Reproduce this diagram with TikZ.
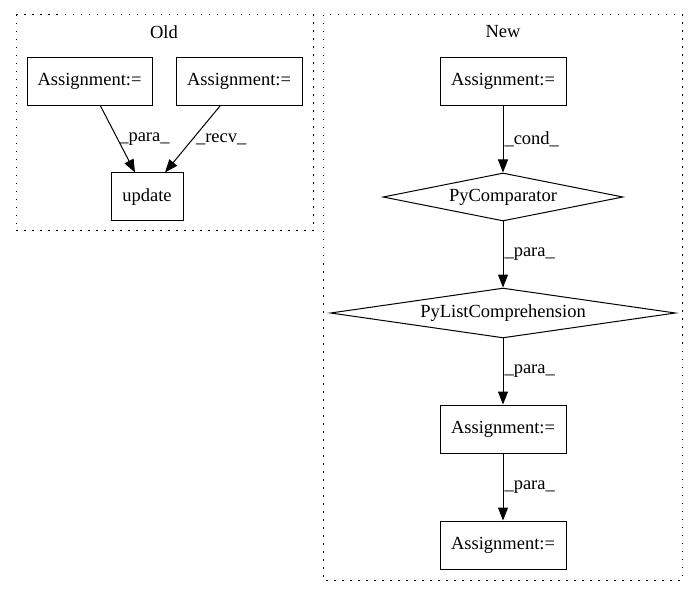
\documentclass[tikz,border=0pt]{standalone}
\usepackage{fontspec}
\setmainfont{Liberation Serif}
\usetikzlibrary{arrows.meta}
\usetikzlibrary{shapes.geometric}
\tikzstyle{assign} = [
    rectangle,
    draw=black,
    line width=1pt,
    minimum width=126pt,
    minimum height=48pt,
    inner sep=0pt,
    text centered
]
\tikzstyle{cmp} = [
    diamond,
    draw=black,
    line width=1pt,
    aspect=5,
    inner sep=0pt,
    minimum height=48pt
]
\tikzstyle{tran} = [
    draw,
    line width=1pt,
    -{Triangle[length=13pt,width=10pt]}
]
\tikzstyle{cluster} = [
    draw,
    line width=1pt,
    dash pattern=on 1.5pt off 6.5pt
]
\tikzstyle{lbl} = [right, inner sep=1pt]

\begin{document}
\begin{tikzpicture}[x=1pt, y=-1pt, font=\fontsize{18.5}{21}\selectfont]

\useasboundingbox (0,0) rectangle (699,596);

\draw[cluster] (16,15) rectangle (313,231);
\draw[cluster] (323,15) rectangle (682,580);

\node (old) at (164,32) {Old};
\node (new) at (503,32) {New};

% old
\node[assign, minimum width=125pt] (aoL) at (89.5,81.5) {Assignment:=};
\node[assign] (aoR) at (239,81.5) {Assignment:=};
\node[assign, minimum width=72pt] (upd) at (147,197) {update};

% new
\node[assign] (anT) at (503,81.5) {Assignment:=};
\node[cmp, minimum width=240pt] (cmp) at (503,197) {PyComparator};
\node[cmp, minimum width=345pt] (lc) at (503,313) {PyListComprehension};
\node[assign] (anM) at (503,429) {Assignment:=};
\node[assign] (anB) at (503,545) {Assignment:=};

\draw[tran] ([xshift=11pt]aoL.south) to node[lbl] {\_para\_} ([xshift=-12pt]upd.north);
\draw[tran] ([xshift=-19pt]aoR.south) to node[lbl, xshift=2pt] {\_recv\_} ([xshift=18pt]upd.north);

\draw[tran] (anT) to node[lbl] {\_cond\_} (cmp);
\draw[tran] (cmp) to node[lbl] {\_para\_} (lc);
\draw[tran] (lc)  to node[lbl] {\_para\_} (anM);
\draw[tran] (anM) to node[lbl] {\_para\_} (anB);

\end{tikzpicture}
\end{document}
